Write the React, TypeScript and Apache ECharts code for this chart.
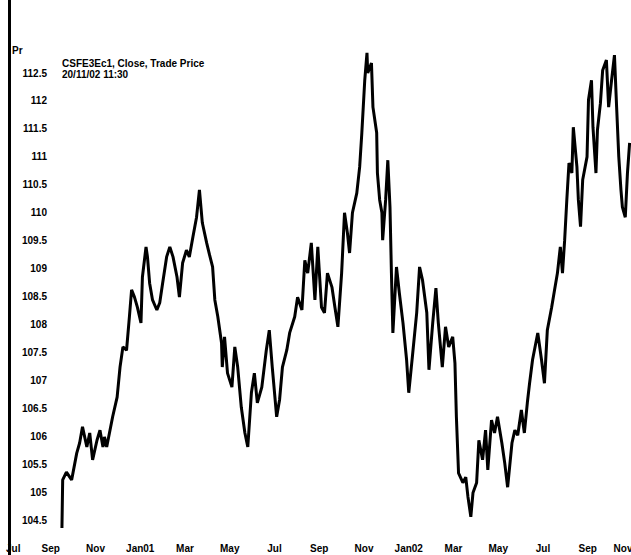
import React, { useEffect, useRef } from "react";
import * as echarts from "echarts";

// Trade dates and closing prices
const dates: string[] = [
  "2000-09-16","2000-09-17","2000-09-22","2000-09-29","2000-10-06","2000-10-10","2000-10-14","2000-10-20","2000-10-24","2000-10-28",
  "2000-11-03","2000-11-07","2000-11-11","2000-11-13","2000-11-16","2000-11-24","2000-11-30","2000-12-04","2000-12-08","2000-12-13",
  "2000-12-17","2000-12-20","2000-12-24","2000-12-28","2001-01-02","2001-01-04","2001-01-09","2001-01-11","2001-01-14","2001-01-18",
  "2001-01-24","2001-01-28","2001-02-01","2001-02-06","2001-02-10","2001-02-14","2001-02-19","2001-02-22","2001-02-26","2001-03-03",
  "2001-03-07","2001-03-12","2001-03-17","2001-03-21","2001-03-25","2001-03-31","2001-04-04","2001-04-08","2001-04-11","2001-04-15",
  "2001-04-20","2001-04-21","2001-04-24","2001-04-28","2001-05-04","2001-05-08","2001-05-12","2001-05-17","2001-05-22","2001-05-26",
  "2001-05-31","2001-06-04","2001-06-08","2001-06-14","2001-06-20","2001-06-24","2001-06-28","2001-07-04","2001-07-08","2001-07-12",
  "2001-07-18","2001-07-22","2001-07-29","2001-08-02","2001-08-08","2001-08-12","2001-08-16","2001-08-21","2001-08-26","2001-08-30",
  "2001-09-04","2001-09-08","2001-09-12","2001-09-18","2001-09-22","2001-09-26","2001-10-01","2001-10-05","2001-10-09","2001-10-12",
  "2001-10-16","2001-10-22","2001-10-26","2001-10-29","2001-11-02","2001-11-05","2001-11-06","2001-11-11","2001-11-13","2001-11-18",
  "2001-11-19","2001-11-22","2001-11-25","2001-11-26","2001-11-30","2001-12-03","2001-12-06","2001-12-08","2001-12-10","2001-12-15",
  "2001-12-19","2001-12-24","2001-12-29","2002-01-01","2002-01-06","2002-01-12","2002-01-16","2002-01-20","2002-01-26","2002-01-29",
  "2002-02-03","2002-02-07","2002-02-10","2002-02-15","2002-02-19","2002-02-23","2002-02-28","2002-03-03","2002-03-05","2002-03-08",
  "2002-03-14","2002-03-18","2002-03-21","2002-03-25","2002-03-28","2002-04-02","2002-04-05","2002-04-10","2002-04-14","2002-04-17",
  "2002-04-22","2002-04-26","2002-04-30","2002-05-06","2002-05-10","2002-05-14","2002-05-20","2002-05-24","2002-05-28","2002-06-02",
  "2002-06-06","2002-06-10","2002-06-13","2002-06-17","2002-06-24","2002-06-29","2002-07-03","2002-07-07","2002-07-13","2002-07-17",
  "2002-07-21","2002-07-25","2002-07-28","2002-07-31","2002-08-03","2002-08-06","2002-08-10","2002-08-12","2002-08-17","2002-08-19",
  "2002-08-22","2002-08-25","2002-08-31","2002-09-02","2002-09-06","2002-09-08","2002-09-12","2002-09-14","2002-09-18","2002-09-21",
  "2002-09-26","2002-09-29","2002-10-03","2002-10-07","2002-10-10","2002-10-13","2002-10-16","2002-10-18","2002-10-22","2002-10-25",
  "2002-10-28",
];

const closes: number[] = [
  104.36,105.22,105.36,105.22,105.70,105.88,106.17,105.81,106.06,105.58,
  105.93,106.11,105.81,105.99,105.81,106.35,106.70,107.24,107.60,107.54,
  108.14,108.62,108.49,108.31,108.03,108.85,109.39,109.21,108.74,108.44,
  108.26,108.39,108.74,109.21,109.39,109.21,108.85,108.49,109.10,109.33,
  109.21,109.57,109.92,110.41,109.82,109.46,109.24,109.03,108.44,108.14,
  107.67,107.24,107.78,107.13,106.88,107.60,107.24,106.52,106.06,105.81,
  106.78,107.13,106.60,106.88,107.54,107.90,107.24,106.35,106.65,107.24,
  107.54,107.85,108.14,108.49,108.26,109.15,108.92,109.46,108.44,109.39,
  108.31,108.21,108.92,108.67,108.31,107.96,108.92,110.00,109.64,109.28,
  110.00,110.35,110.82,111.43,112.37,112.86,112.50,112.68,111.89,111.43,
  110.71,110.23,110.00,109.51,110.23,110.94,110.10,108.92,107.85,109.03,
  108.56,108.03,107.37,106.78,107.42,108.21,109.03,108.80,108.21,107.19,
  108.03,108.65,108.03,107.24,107.96,107.60,107.78,107.31,106.35,105.34,
  105.17,105.27,104.92,104.56,104.99,105.17,105.93,105.58,106.11,105.40,
  106.29,106.06,106.35,105.88,105.52,105.09,105.88,106.11,106.02,106.47,
  106.06,106.60,106.95,107.37,107.85,107.37,106.95,107.90,108.31,108.62,
  108.92,109.39,108.92,109.51,110.23,110.89,110.71,111.53,110.82,110.23,
  109.75,110.59,111.00,112.02,112.37,111.53,110.71,111.48,111.96,112.55,
  112.73,111.89,112.37,112.82,111.89,111.00,110.41,110.10,109.92,110.71,
  111.25,
];

// Tick labels
const monthLabels: string[] = [
  "Jul","Sep","Nov","Jan01","Mar","May","Jul","Sep","Nov","Jan02","Mar","May","Jul","Sep","Nov",
];
const priceTicks: number[] = [
  104.5,105,105.5,106,106.5,107,107.5,108,108.5,109,109.5,110,110.5,111,111.5,112,112.5,
];

const titleLines: string[] = ["CSFE3Ec1, Close, Trade Price", "20/11/02 11:30"];

// months since 1 Jul 2000 (fractional)
function monthIndex(d: string): number {
  const [y, m, day] = d.split("-").map(Number);
  const dim = new Date(y, m, 0).getDate();
  return (y - 2000) * 12 + (m - 7) + (day - 1) / dim;
}

const FONT = "'Liberation Sans', Arial, sans-serif";

export default function App() {
  const ref = useRef<HTMLDivElement>(null);
  useEffect(() => {
    document.body.style.margin = "0";
    if (!ref.current) return;
    const chart = echarts.init(ref.current, undefined, { renderer: "svg" });
    const seriesData = dates.map((d, i) => [monthIndex(d), closes[i]]);
    chart.setOption({
      animation: false,
      backgroundColor: "#ffffff",
      grid: { left: 6, top: 0, width: 626.5, height: 555, containLabel: false, outerBoundsMode: "none" },
      xAxis: {
        type: "value",
        min: 0,
        max: 28,
        interval: 2,
        axisLine: { show: false },
        axisTick: { show: false },
        splitLine: { show: false },
        axisLabel: {
          inside: true,
          margin: 2,
          color: "#000",
          fontFamily: FONT,
          fontSize: 10,
          fontWeight: "bold",
          alignMinLabel: "left",
          alignMaxLabel: "right",
          showMinLabel: true,
          showMaxLabel: true,
          formatter: (v: number) => monthLabels[Math.round(v / 2)] ?? "",
        },
      },
      yAxis: {
        type: "value",
        min: 103.877,
        max: 113.806,
        offset: -3,
        axisLine: { show: true, lineStyle: { color: "#000", width: 3 } },
        axisTick: { show: false },
        splitLine: { show: false },
        axisLabel: {
          inside: true,
          margin: 38,
          align: "right",
          color: "#000",
          fontFamily: FONT,
          fontSize: 10,
          fontWeight: "bold",
          customValues: priceTicks,
          formatter: (v: number) => String(v),
        },
      },
      graphic: [
        { type: "text", left: 12, top: 45, style: { text: "Pr", font: `bold 10px ${FONT}`, fill: "#000" } },
        { type: "text", left: 62, top: 58, style: { text: titleLines[0], font: `bold 10px ${FONT}`, fill: "#000" } },
        { type: "text", left: 62, top: 69, style: { text: titleLines[1], font: `bold 10px ${FONT}`, fill: "#000" } },
      ],
      series: [
        {
          type: "line",
          data: seriesData,
          showSymbol: false,
          symbol: "none",
          lineStyle: { color: "#000", width: 3 },
          silent: true,
        },
      ],
    });
    return () => chart.dispose();
  }, []);
  return <div ref={ref} style={{ width: 631, height: 555, position: "fixed", left: 0, top: 0 }} />;
}
